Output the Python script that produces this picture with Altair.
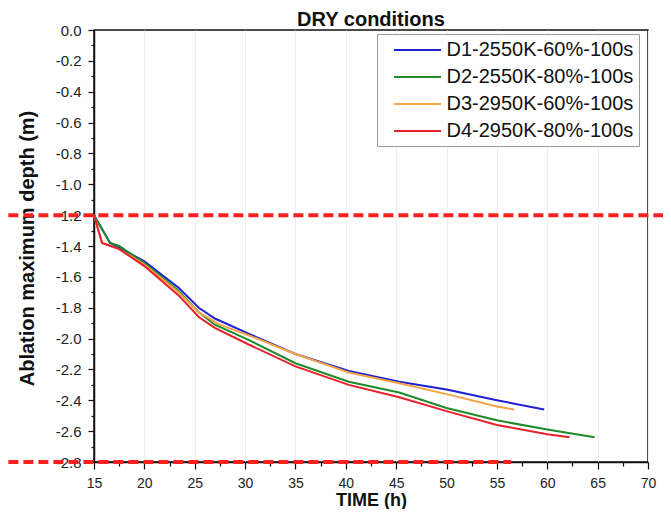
import altair as alt
import pandas as pd

series = ["D1-2550K-60%-100s", "D2-2550K-80%-100s", "D3-2950K-60%-100s", "D4-2950K-80%-100s"]
colors = ["#1f1fd6", "#1e8a2a", "#f5a445", "#e8202a"]

d1_t = [15, 16.6, 17.5, 20, 23.4, 25.4, 27, 30.4, 35, 40.3, 45.3, 50, 55, 59.7]
d1_d = [-1.2, -1.38, -1.41, -1.50, -1.67, -1.80, -1.87, -1.97, -2.10, -2.21, -2.28, -2.33, -2.40, -2.46]

d2_t = [15, 16.6, 17.5, 20, 23.4, 25.4, 27, 30.4, 35, 40.3, 45.3, 50, 55, 60, 64.7]
d2_d = [-1.2, -1.38, -1.40, -1.51, -1.69, -1.83, -1.91, -2.01, -2.16, -2.28, -2.35, -2.45, -2.53, -2.59, -2.64]

d3_t = [15, 15.8, 17.5, 20, 23.4, 25.4, 27.5, 30.4, 35, 40.3, 45.3, 50, 55, 56.7]
d3_d = [-1.2, -1.38, -1.42, -1.52, -1.70, -1.83, -1.91, -1.98, -2.10, -2.22, -2.29, -2.36, -2.44, -2.46]

d4_t = [15, 15.8, 17.5, 20, 23.4, 25.4, 27, 30.4, 35, 40.3, 45.3, 50, 55, 60, 62.2]
d4_d = [-1.2, -1.38, -1.42, -1.53, -1.72, -1.86, -1.93, -2.04, -2.18, -2.30, -2.38, -2.47, -2.56, -2.62, -2.64]

# reference (dashed) levels and their horizontal extents
ref_levels = [-1.2, -2.8]
ref_start = [6.5, 6.5]
ref_end = [71.5, 56.4]

x_ticks = [15 + 2.5 * i for i in range(23)]
y_ticks = [round(-0.1 * i, 1) + 0.0 for i in range(29)]

rows = []
for name, ts, ds in zip(series, [d1_t, d2_t, d3_t, d4_t], [d1_d, d2_d, d3_d, d4_d]):
    for t, d in zip(ts, ds):
        rows.append({"series": name, "time": t, "depth": d})
df = pd.DataFrame(rows)
ref_df = pd.DataFrame({"y": ref_levels, "x": ref_start, "x2": ref_end})

FONT = "Liberation Sans"

x_scale = alt.Scale(domain=[15, 70], nice=False, zero=False)
y_scale = alt.Scale(domain=[-2.8, 0], nice=False, zero=False)

x_axis = alt.Axis(
    title="TIME (h)",
    values=x_ticks,
    labelExpr="datum.value % 5 === 0 ? datum.label : ''",
    tickSize={"condition": {"test": "datum.value % 5 === 0", "value": 7}, "value": 4},
    gridOpacity={"condition": {"test": "datum.value % 5 === 0", "value": 1}, "value": 0},
    labelOverlap=False,
    labelFlush=False,
    labelFontSize=14,
    labelPadding=7,
    titleFontSize=18,
    titleX=277,
    titleY=38,
    titleBaseline="middle",
)
y_axis = alt.Axis(
    title="Ablation maximum depth (m)",
    values=y_ticks,
    labelExpr="abs(datum.value*5 - round(datum.value*5)) < 0.01 ? replace(format(datum.value, '.1f'), '\u2212', '-') : ''",
    tickSize={"condition": {"test": "abs(datum.value*5 - round(datum.value*5)) < 0.01", "value": 6}, "value": 3},
    grid=False,
    labelOverlap=False,
    labelSeparation=0,
    labelFlush=False,
    labelFontSize=15,
    labelPadding=7,
    titleFontSize=20,
    titleX=-67,
    titleY=218,
    titleBaseline="middle",
    titleAngle=-90,
)

lines = alt.Chart(df).mark_line(strokeWidth=2).encode(
    x=alt.X("time:Q", scale=x_scale, axis=x_axis),
    y=alt.Y("depth:Q", scale=y_scale, axis=y_axis),
    color=alt.Color(
        "series:N",
        scale=alt.Scale(domain=series, range=colors),
        legend=alt.Legend(
            title=None,
            orient="none",
            legendX=283,
            legendY=4,
            padding=5,
            strokeColor="#999999",
            fillColor="white",
            symbolType="M-2.35,0H2.35",
            symbolSize=400,
            symbolStrokeWidth=2,
            symbolOffset=24.5,
            labelOffset=18,
            labelFontSize=20,
            labelFont=FONT,
            labelColor="#111111",
            labelLimit=400,
            rowPadding=6,
        ),
    ),
    order=alt.Order("time:Q"),
)

refs = alt.Chart(ref_df).mark_rule(
    clip=False, strokeDash=[10, 5], strokeWidth=4, color="#ff1f1f"
).encode(
    x=alt.X("x:Q", scale=x_scale, axis=x_axis),
    x2="x2:Q",
    y=alt.Y("y:Q", scale=y_scale, axis=y_axis),
)

chart = alt.layer(lines, refs).properties(
    width=554,
    height=432,
    autosize=alt.AutoSizeParams(type="none"),
    padding={"left": 86, "top": 22, "right": 15, "bottom": 47},
    title=alt.TitleParams(
        "DRY conditions",
        fontSize=20,
        fontWeight="bold",
        font=FONT,
        color="#111111",
        anchor="middle",
        offset=-7,
    ),
).configure_view(
    stroke="#111111", strokeWidth=1.5
).configure_axis(
    domainColor="#111111",
    domainWidth=1.5,
    tickColor="#111111",
    tickWidth=1.2,
    labelFont=FONT,
    labelColor="#222222",
    titleFont=FONT,
    titleFontWeight="bold",
    titleColor="#111111",
    gridColor="#efefef",
    gridWidth=1,
)

chart.save("out.html", embed_options={"renderer": "svg", "actions": False})
